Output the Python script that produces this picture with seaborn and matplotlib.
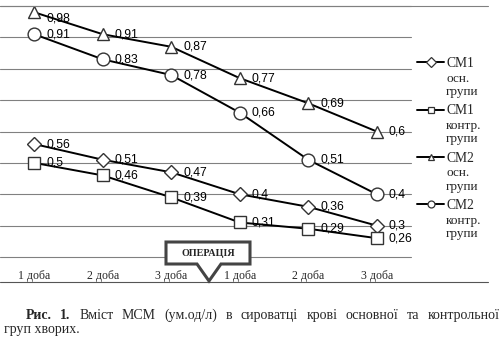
import numpy as np
import matplotlib
matplotlib.use("Agg")
import matplotlib.pyplot as plt
import seaborn as sns
from matplotlib.lines import Line2D
from matplotlib.patches import Polygon

# ---------------- data ----------------
days = ["1 доба", "2 доба", "3 доба", "1 доба", "2 доба", "3 доба"]
series_names = ["СМ1", "СМ1", "СМ2", "СМ2"]
series_groups = ["осн.\nгрупи", "контр.\nгрупи", "осн.\nгрупи", "контр.\nгрупи"]
sm1_main = [0.56, 0.51, 0.47, 0.40, 0.36, 0.30]
sm1_ctrl = [0.50, 0.46, 0.39, 0.31, 0.29, 0.26]
sm2_main = [0.98, 0.91, 0.87, 0.77, 0.69, 0.60]
sm2_ctrl = [0.91, 0.83, 0.78, 0.66, 0.51, 0.40]
y_ticks = [0.2, 0.3, 0.4, 0.5, 0.6, 0.7, 0.8, 0.9, 1.0]
callout_text = "ОПЕРАЦІЯ"
caption_bold = ["Рис.", "1."]
caption_rest = "Вміст МСМ (ум.од/л) в сироватці крові основної та контрольної"
caption_line2 = "груп хворих."

all_series = [sm1_main, sm1_ctrl, sm2_main, sm2_ctrl]
styles = [("D", 7.0), ("s", 9.2), ("^", 8.8), ("o", 9.2)]

sns.set_style("white")
plt.rcParams["font.family"] = ["Liberation Serif", "DejaVu Sans"]

W, H = 504, 340
fig = plt.figure(figsize=(W / 100, H / 100), dpi=100)
ax = fig.add_axes([0.0, 1 - 257 / H, 411 / W, (257 - 6) / H])

xpos = np.arange(len(days))
for vals, (m, ms) in zip(all_series, styles):
    sns.lineplot(x=xpos, y=vals, ax=ax, color="black", lw=1.4, marker=m,
                 markersize=ms, markerfacecolor="white",
                 markeredgecolor="#333333", markeredgewidth=1.0,
                 legend=False, zorder=3)

ymin, ymax = y_ticks[0], y_ticks[-1]
for vals in all_series:
    for i, v in enumerate(vals):
        dy = -4.5 if v > ymax - 0.05 else 0
        ax.annotate(f"{v:g}".replace(".", ","), (i, v), xytext=(8.8, dy),
                    textcoords="offset points", ha="left", va="center",
                    fontsize=8.8, family="Liberation Sans", color="black",
                    zorder=4)

ax.set_xlim(-0.5, len(days) - 0.5)
ax.set_ylim(ymin, ymax)
ax.set_yticks(y_ticks)
ax.set_yticklabels([])
ax.set_xticks(xpos)
ax.set_xticklabels(days, fontsize=8.5, family="Liberation Serif")
ax.tick_params(length=0)
ax.tick_params(axis="x", pad=9)
ax.set_xlabel("")
ax.set_ylabel("")
ax.grid(axis="y", color="#808080", lw=0.8)
ax.grid(axis="x", visible=False)
ax.set_axisbelow(True)
for gl in ax.get_ygridlines():
    gl.set_clip_on(False)
for s in ax.spines.values():
    s.set_visible(False)

# frame lines of chart area
fig.add_artist(Line2D([0, 488 / W], [1 - 6 / H] * 2, color="#808080", lw=0.8))
fig.add_artist(Line2D([0, 488 / W], [1 - 282 / H] * 2, color="#555555", lw=0.8))

# legend
handles = [Line2D([], [], color="black", lw=1.4, marker=m, ms=5.0,
                  mfc="white", mec="#333333", mew=0.9) for m, _ in styles]
leg = ax.legend(handles, series_names, loc="upper left",
                bbox_to_anchor=(417 / W, 1 - 57 / H), bbox_transform=fig.transFigure,
                frameon=False, prop={"family": "Liberation Serif", "size": 9.8},
                handlelength=2.0, handletextpad=0.15, labelspacing=2.52,
                borderpad=0, borderaxespad=0)
for t, g in zip(leg.get_texts(), series_groups):
    ax.annotate(g, xy=(0, 0), xycoords=t, xytext=(0, -2.0), textcoords="offset points",
                ha="left", va="top", fontsize=9.5, family="Liberation Serif",
                linespacing=1.15, zorder=6, annotation_clip=False)

# callout
def px(x, y):
    return (x / W, 1 - y / H)

poly = [px(166, 242), px(250, 242), px(250, 264), px(221, 264), px(209, 281),
        px(197, 264), px(166, 264)]
fig.add_artist(Polygon(poly, closed=True, facecolor="white", edgecolor="#444444",
                       lw=2.2, joinstyle="miter", transform=fig.transFigure, zorder=5))
fig.text(208 / W, 1 - 253.5 / H, callout_text, ha="center", va="center",
         fontsize=7.3, fontweight="bold", family="Liberation Serif", zorder=6)

# caption (justified first line)
fig.canvas.draw()
r = fig.canvas.get_renderer()
tokens = [(w, "bold") for w in caption_bold] + [(w, "normal") for w in caption_rest.split()]
texts = []
for w, fw in tokens:
    t = fig.text(0, 1 - 319 / H, w, ha="left", va="baseline", fontsize=10,
                 fontweight=fw, family="Liberation Serif")
    texts.append(t)
widths = [t.get_window_extent(r).width for t in texts]
x0, x1 = 26, 500
gap = (x1 - x0 - sum(widths)) / (len(texts) - 1)
x = x0
for t, wdt in zip(texts, widths):
    t.set_x(x / W)
    x += wdt + gap
fig.text(4 / W, 1 - 333 / H, caption_line2, ha="left", va="baseline", fontsize=10,
         family="Liberation Serif")

fig.canvas.draw()
fig.savefig("out.png", dpi=100, facecolor="white")
